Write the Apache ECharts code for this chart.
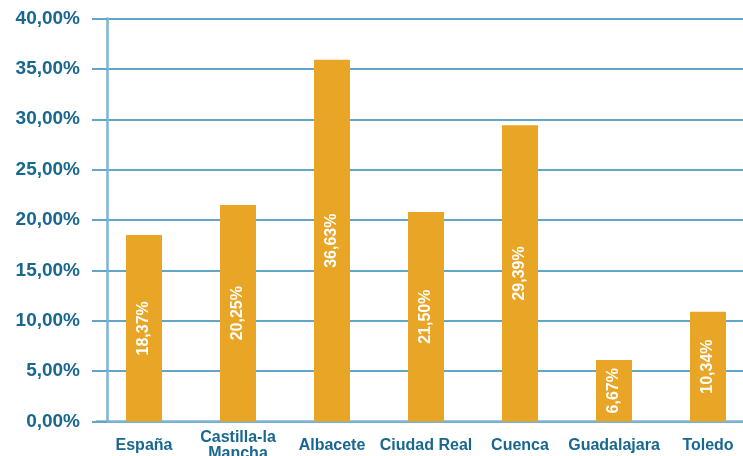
<!DOCTYPE html>
<html>
<head>
<meta charset="utf-8">
<script src="https://cdn.jsdelivr.net/npm/echarts@6/dist/echarts.min.js"></script>
<style>
  html, body { margin: 0; padding: 0; background: #fff; }
  #chart { width: 743px; height: 456px; }
</style>
</head>
<body>
<div id="chart"></div>
<script>
var categories = ['España', 'Castilla-la\nMancha', 'Albacete', 'Ciudad Real', 'Cuenca', 'Guadalajara', 'Toledo'];
// bar heights as drawn in the picture (percent)
var barValues = [18.5, 21.5, 35.9, 20.8, 29.4, 6.1, 10.9];
// text printed inside each bar
var barLabels = ['18,37%', '20,25%', '36,63%', '21,50%', '29,39%', '6,67%', '10,34%'];
var yTicks = [0, 5, 10, 15, 20, 25, 30, 35, 40];

var myChart = echarts.init(document.getElementById('chart'));

var font = "'Liberation Sans', Arial, sans-serif";
var labelBlue = '#17678f';
var gridBlue = '#62a7ca';
var axisBlue = '#7db5d3';

var option = {
    backgroundColor: '#fff',
    animation: false,
    grid: {
        left: 97,
        right: -12,
        top: 18.5,
        bottom: 34.5,
        outerBoundsMode: 'none',
        containLabel: false
    },
    xAxis: {
        type: 'category',
        data: categories,
        axisTick: { show: false },
        axisLine: {
            lineStyle: { color: axisBlue, width: 2.5 }
        },
        axisLabel: {
            interval: 0,
            margin: 24,
            verticalAlign: 'middle',
            color: labelBlue,
            fontFamily: font,
            fontWeight: 'bold',
            fontSize: 16,
            lineHeight: 16
        }
    },
    yAxis: {
        type: 'value',
        min: yTicks[0],
        max: yTicks[yTicks.length - 1],
        interval: yTicks[1] - yTicks[0],
        offset: -10,
        axisLine: {
            show: true,
            lineStyle: { color: axisBlue, width: 2.5 }
        },
        axisTick: {
            show: true,
            length: 15,
            lineStyle: { color: gridBlue, width: 2 }
        },
        splitLine: {
            lineStyle: { color: gridBlue, width: 2 }
        },
        axisLabel: {
            margin: 27,
            color: labelBlue,
            fontFamily: font,
            fontWeight: 'bold',
            fontSize: 19,
            formatter: function (v) {
                return v.toFixed(2).replace('.', ',') + '%';
            }
        }
    },
    series: [{
        type: 'bar',
        data: barValues,
        barWidth: 36,
        itemStyle: { color: '#e9a525' },
        label: {
            show: true,
            position: 'inside',
            rotate: 90,
            color: '#fff',
            fontFamily: font,
            fontWeight: 'bold',
            fontSize: 16,
            formatter: function (p) {
                return barLabels[p.dataIndex];
            }
        }
    }]
};

myChart.setOption(option);
</script>
</body>
</html>
